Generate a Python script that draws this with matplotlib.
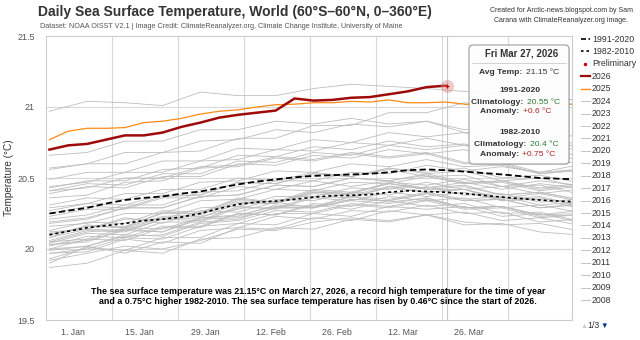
import matplotlib
matplotlib.use("Agg")
import matplotlib.pyplot as plt
from matplotlib.lines import Line2D
from matplotlib.patches import FancyBboxPatch

plt.rcParams['font.family'] = ['Liberation Sans', 'DejaVu Sans']

W, H = 640, 340

# day of year (1 = 1 Jan), sampled every 4 days / 8 days
days4 = list(range(-4, 109, 4))
days8 = list(range(-4, 109, 8))

sst_2026 = [20.70, 20.73, 20.74, 20.77, 20.80, 20.80, 20.82, 20.86, 20.89, 20.925, 20.945,
            20.96, 20.975, 21.06, 21.045, 21.05, 21.065, 21.07, 21.09, 21.11, 21.14, 21.15]
sst_2025 = [20.77, 20.83, 20.85, 20.85, 20.855, 20.89, 20.90, 20.92, 20.95, 20.97, 20.98, 21.0,
            21.016, 21.02, 21.03, 21.03, 21.04, 21.035, 21.05, 21.03, 21.03, 21.035, 21.02,
            21.01, 21.01, 21.02, 21.02, 21.02, 21.02]
clim_1991_2020 = [20.25, 20.27, 20.29, 20.32, 20.345, 20.36, 20.37, 20.39, 20.405, 20.43, 20.455,
                  20.475, 20.49, 20.505, 20.515, 20.52, 20.525, 20.53, 20.54, 20.555, 20.56,
                  20.555, 20.545, 20.535, 20.525, 20.513, 20.50, 20.495, 20.49]
clim_1982_2010 = [20.10, 20.125, 20.15, 20.165, 20.18, 20.20, 20.21, 20.225, 20.25, 20.285, 20.315,
                  20.33, 20.337, 20.35, 20.365, 20.375, 20.378, 20.383, 20.40, 20.41, 20.405,
                  20.40, 20.39, 20.378, 20.365, 20.355, 20.345, 20.337, 20.333]

gray_years = list(range(1982, 2025))
gray_values = [
    [19.92, 19.97, 20.02, 20.00, 20.06, 20.14, 20.13, 20.19, 20.22, 20.20, 20.24, 20.19, 20.17, 20.18, 20.13],
    [20.05, 20.12, 20.14, 20.22, 20.23, 20.28, 20.35, 20.34, 20.40, 20.38, 20.44, 20.38, 20.39, 20.33, 20.35],
    [19.90, 20.02, 19.97, 20.05, 20.04, 20.15, 20.14, 20.22, 20.20, 20.27, 20.24, 20.26, 20.20, 20.22, 20.17],
    [19.87, 19.90, 19.99, 19.97, 20.07, 20.08, 20.15, 20.14, 20.21, 20.19, 20.24, 20.17, 20.18, 20.12, 20.10],
    [19.97, 19.98, 20.07, 20.04, 20.13, 20.15, 20.23, 20.21, 20.27, 20.26, 20.31, 20.25, 20.26, 20.19, 20.21],
    [20.08, 20.17, 20.15, 20.26, 20.25, 20.36, 20.33, 20.42, 20.40, 20.46, 20.42, 20.44, 20.38, 20.40, 20.35],
    [20.12, 20.14, 20.22, 20.18, 20.27, 20.26, 20.33, 20.29, 20.37, 20.33, 20.36, 20.29, 20.30, 20.23, 20.24],
    [19.93, 20.01, 19.99, 20.08, 20.08, 20.18, 20.17, 20.25, 20.23, 20.30, 20.28, 20.30, 20.23, 20.25, 20.19],
    [20.03, 20.05, 20.14, 20.12, 20.22, 20.23, 20.31, 20.30, 20.37, 20.35, 20.40, 20.35, 20.37, 20.31, 20.33],
    [20.06, 20.13, 20.12, 20.21, 20.20, 20.30, 20.28, 20.36, 20.34, 20.40, 20.37, 20.40, 20.34, 20.36, 20.31],
    [20.05, 20.07, 20.15, 20.14, 20.22, 20.24, 20.30, 20.29, 20.34, 20.32, 20.36, 20.29, 20.30, 20.24, 20.25],
    [20.00, 20.07, 20.06, 20.15, 20.15, 20.25, 20.24, 20.32, 20.30, 20.37, 20.34, 20.36, 20.29, 20.31, 20.26],
    [20.03, 20.06, 20.13, 20.12, 20.21, 20.22, 20.29, 20.29, 20.35, 20.34, 20.39, 20.34, 20.35, 20.29, 20.31],
    [20.13, 20.19, 20.18, 20.27, 20.26, 20.35, 20.33, 20.40, 20.38, 20.44, 20.40, 20.42, 20.35, 20.37, 20.31],
    [19.97, 20.00, 20.08, 20.07, 20.16, 20.18, 20.25, 20.25, 20.31, 20.29, 20.34, 20.28, 20.29, 20.22, 20.24],
    [20.04, 20.11, 20.10, 20.19, 20.19, 20.29, 20.29, 20.37, 20.36, 20.44, 20.43, 20.47, 20.42, 20.46, 20.43],
    [20.36, 20.38, 20.47, 20.48, 20.57, 20.58, 20.64, 20.62, 20.67, 20.64, 20.67, 20.60, 20.60, 20.53, 20.55],
    [20.02, 20.09, 20.08, 20.16, 20.16, 20.25, 20.24, 20.31, 20.28, 20.34, 20.30, 20.32, 20.25, 20.26, 20.20],
    [19.99, 20.02, 20.10, 20.09, 20.18, 20.20, 20.27, 20.26, 20.32, 20.30, 20.35, 20.29, 20.30, 20.24, 20.27],
    [20.10, 20.16, 20.16, 20.25, 20.25, 20.34, 20.33, 20.41, 20.39, 20.46, 20.43, 20.45, 20.38, 20.40, 20.35],
    [20.18, 20.21, 20.29, 20.29, 20.37, 20.38, 20.45, 20.44, 20.50, 20.48, 20.52, 20.46, 20.47, 20.41, 20.44],
    [20.31, 20.36, 20.35, 20.42, 20.42, 20.50, 20.48, 20.54, 20.51, 20.56, 20.51, 20.52, 20.44, 20.45, 20.39],
    [20.19, 20.22, 20.29, 20.29, 20.37, 20.38, 20.45, 20.44, 20.50, 20.48, 20.53, 20.47, 20.48, 20.42, 20.45],
    [20.25, 20.30, 20.29, 20.37, 20.38, 20.47, 20.46, 20.53, 20.51, 20.57, 20.53, 20.55, 20.48, 20.50, 20.44],
    [20.11, 20.14, 20.21, 20.21, 20.29, 20.30, 20.37, 20.37, 20.43, 20.42, 20.47, 20.42, 20.44, 20.39, 20.42],
    [20.23, 20.28, 20.28, 20.36, 20.36, 20.44, 20.42, 20.48, 20.44, 20.48, 20.42, 20.42, 20.34, 20.35, 20.29],
    [20.00, 20.02, 20.09, 20.10, 20.19, 20.21, 20.29, 20.29, 20.35, 20.34, 20.39, 20.34, 20.35, 20.29, 20.32],
    [20.08, 20.14, 20.13, 20.21, 20.22, 20.32, 20.32, 20.40, 20.39, 20.47, 20.45, 20.49, 20.44, 20.48, 20.45],
    [20.41, 20.43, 20.50, 20.50, 20.58, 20.59, 20.65, 20.63, 20.68, 20.65, 20.68, 20.61, 20.61, 20.54, 20.56],
    [20.10, 20.16, 20.15, 20.23, 20.24, 20.33, 20.32, 20.39, 20.37, 20.43, 20.40, 20.42, 20.36, 20.39, 20.34],
    [20.16, 20.18, 20.25, 20.25, 20.34, 20.35, 20.42, 20.41, 20.47, 20.46, 20.51, 20.46, 20.48, 20.43, 20.46],
    [20.27, 20.32, 20.31, 20.38, 20.38, 20.47, 20.46, 20.53, 20.51, 20.57, 20.54, 20.57, 20.50, 20.52, 20.47],
    [20.21, 20.24, 20.31, 20.31, 20.40, 20.41, 20.48, 20.48, 20.54, 20.53, 20.59, 20.55, 20.58, 20.54, 20.59],
    [20.41, 20.46, 20.45, 20.53, 20.53, 20.62, 20.61, 20.68, 20.66, 20.73, 20.70, 20.73, 20.67, 20.70, 20.66],
    [20.66, 20.68, 20.76, 20.76, 20.84, 20.84, 20.90, 20.88, 20.92, 20.88, 20.90, 20.82, 20.82, 20.74, 20.75],
    [20.43, 20.48, 20.48, 20.56, 20.57, 20.66, 20.65, 20.72, 20.70, 20.76, 20.72, 20.74, 20.67, 20.68, 20.63],
    [20.29, 20.32, 20.39, 20.39, 20.47, 20.48, 20.55, 20.54, 20.60, 20.58, 20.63, 20.58, 20.59, 20.53, 20.56],
    [20.49, 20.54, 20.54, 20.62, 20.62, 20.71, 20.70, 20.77, 20.75, 20.82, 20.79, 20.82, 20.75, 20.77, 20.72],
    [20.57, 20.60, 20.68, 20.68, 20.76, 20.77, 20.84, 20.82, 20.88, 20.86, 20.90, 20.84, 20.85, 20.78, 20.80],
    [20.39, 20.44, 20.43, 20.51, 20.51, 20.60, 20.59, 20.66, 20.64, 20.70, 20.67, 20.70, 20.63, 20.65, 20.60],
    [20.44, 20.47, 20.54, 20.54, 20.62, 20.63, 20.70, 20.69, 20.75, 20.73, 20.78, 20.73, 20.74, 20.68, 20.71],
    [20.56, 20.60, 20.60, 20.68, 20.69, 20.78, 20.78, 20.87, 20.87, 20.96, 20.96, 21.03, 21.01, 21.06, 21.05],
    [20.97, 21.04, 21.03, 21.01, 21.105, 21.08, 21.08, 21.13, 21.16, 21.145, 21.13, 21.11, 21.09, 21.07, 21.05],
]

tick_days = [1, 15, 29, 43, 57, 71, 85]
tick_labels = ['1. Jan', '15. Jan', '29. Jan', '12. Feb', '26. Feb', '12. Mar', '26. Mar']
grid_days = [9.3, 23.3, 37.3, 51.3, 65.3, 79.3, 93.3]
y_ticks = [19.5, 20, 20.5, 21, 21.5]
y_tick_labels = ['19.5', '20', '20.5', '21', '21.5']
current_day = 80.3
current_temp = 21.15

legend_labels = ['1991-2020', '1982-2010', 'Preliminary', '2026', '2025'] + \
    [str(y) for y in range(2024, 2007, -1)]


def fx(px):
    return px / W


def fy(py):
    return 1 - py / H


fig = plt.figure(figsize=(6.4, 3.4), dpi=100)
ax = fig.add_axes([fx(46), fy(320), (572 - 46) / W, (320 - 36) / H])

for vals in gray_values:
    ax.plot(days8, vals, color='#bdbdbd', lw=0.6, zorder=2)

ax.plot(days4, clim_1982_2010, color='black', lw=1.2, dashes=(1.8, 1.8), zorder=3)
ax.plot(days4, clim_1991_2020, color='black', lw=1.3, dashes=(3.5, 1.8), zorder=3)
ax.plot(days4, sst_2025, color='#ff8a14', lw=0.9, zorder=4)
ax.plot(days4[:len(sst_2026)], sst_2026, color='#9e0a0a', lw=1.8, zorder=5)

ax.axvline(current_day, color='#c8c8c8', lw=0.8, zorder=1)
ax.scatter([current_day], [current_temp], s=90, color='#d88a8a', alpha=0.45, lw=0, zorder=6)
ax.scatter([current_day], [current_temp], s=10, marker='+', color='#cc0000', lw=0.9, zorder=7)

ax.set_xlim(-4.73, 106.85)
ax.set_ylim(19.5, 21.5)
ax.set_xticks(tick_days)
ax.set_xticklabels(tick_labels)
ax.set_yticks(y_ticks)
ax.set_yticklabels(y_tick_labels)
ax.tick_params(axis='both', which='both', length=0, colors='#555555')
ax.tick_params(axis='x', labelsize=6.3, pad=6)
ax.tick_params(axis='y', labelsize=6.5, pad=8)
for g in grid_days:
    ax.axvline(g, color='#d8d8d8', lw=0.8, zorder=1)
for yv in [20, 20.5, 21]:
    ax.axhline(yv, color='#d8d8d8', lw=0.8, zorder=1)
for sp in ax.spines.values():
    sp.set_color('#cccccc')
    sp.set_linewidth(0.8)
ax.set_ylabel('Temperature (°C)', fontsize=7.2, color='#333333')
ax.yaxis.set_label_coords(-0.061, 0.5)

# headings
fig.text(fx(38), fy(12), 'Daily Sea Surface Temperature, World (60°S–60°N, 0–360°E)',
         fontsize=10, fontweight='bold', color='#333333', va='center', ha='left')
fig.text(fx(40), fy(26), 'Dataset: NOAA OISST V2.1 | Image Credit: ClimateReanalyzer.org, '
         'Climate Change Institute, University of Maine',
         fontsize=5.2, color='#555555', va='center', ha='left')
fig.text(fx(561), fy(11), 'Created for Arctic-news.blogspot.com by Sam', fontsize=5,
         color='#333333', va='center', ha='center')
fig.text(fx(561), fy(21), 'Carana with ClimateReanalyzer.org image.', fontsize=5,
         color='#333333', va='center', ha='center')

# annotation
fig.text(fx(318), fy(291), 'The sea surface temperature was 21.15°C on March 27, 2026, a record '
         'high temperature for the time of year', fontsize=6.4, fontweight='bold',
         color='black', va='center', ha='center')
fig.text(fx(318), fy(302), 'and a 0.75°C higher 1982-2010. The sea surface temperature has risen '
         'by 0.46°C since the start of 2026.', fontsize=6.4, fontweight='bold',
         color='black', va='center', ha='center')

# legend
ly = 39
for lab in legend_labels:
    xs = [fx(581), fx(590)]
    ys = [fy(ly), fy(ly)]
    if lab == '1991-2020':
        fig.add_artist(Line2D(xs, ys, color='black', lw=1.2, dashes=(3, 1.5)))
    elif lab == '1982-2010':
        fig.add_artist(Line2D(xs, ys, color='black', lw=1.2, dashes=(1.5, 1.8)))
    elif lab == 'Preliminary':
        fig.add_artist(Line2D([fx(585)], [fy(ly)], color='#cc0000', marker='o', ms=1.5, lw=0))
    elif lab == '2026':
        fig.add_artist(Line2D(xs, ys, color='#9e0a0a', lw=1.6))
    elif lab == '2025':
        fig.add_artist(Line2D(xs, ys, color='#ff8a14', lw=1.0))
    else:
        fig.add_artist(Line2D(xs, ys, color='#c4c4c4', lw=0.7))
    fig.text(fx(592), fy(ly), lab, fontsize=6.3, color='#333333', va='center', ha='left')
    ly += 12.43
fig.text(fx(581), fy(326), '▲', fontsize=5, color='#cccccc', va='center', ha='left')
fig.text(fx(587), fy(326), '1/3', fontsize=6.3, color='#333333', va='center', ha='left')
fig.text(fx(600), fy(326), '▼', fontsize=5.5, color='#003399', va='center', ha='left')

# tooltip
tr = fig.dpi_scale_trans
fig.patches.append(FancyBboxPatch((4.70, 1.75), 1.0, 1.19, boxstyle='round,pad=0,rounding_size=0.04',
                                  transform=tr, fc='black', ec='none', alpha=0.10, zorder=10))
fig.patches.append(FancyBboxPatch((4.69, 1.76), 1.0, 1.19, boxstyle='round,pad=0,rounding_size=0.04',
                                  transform=tr, fc='white', ec='#999999', lw=0.8, alpha=0.96, zorder=11))
fig.add_artist(Line2D([fx(472), fx(566)], [fy(63), fy(63)], color='#cccccc', lw=0.6, zorder=12))
tip_font = dict(fontsize=6.1, va='center', zorder=13)
fig.text(fx(522), fy(54), 'Fri Mar 27, 2026', ha='center', fontweight='bold', color='#333333',
         fontsize=7, va='center', zorder=13)
tip_rows = [
    (73, 525, 'Avg Temp: ', '21.15 °C', '#333333'),
    (102, 526, 'Climatology: ', '20.55 °C', '#2e7d32'),
    (112, 522, 'Anomaly: ', '+0.6 °C', '#b22222'),
    (144, 529, 'Climatology: ', '20.4 °C', '#2e7d32'),
    (155, 521, 'Anomaly: ', '+0.75 °C', '#b22222'),
]
for py, xs, lab, val, col in tip_rows:
    fig.text(fx(xs), fy(py), lab, ha='right', fontweight='bold', color='#333333', **tip_font)
    fig.text(fx(xs + 1), fy(py), val, ha='left', color=col, **tip_font)
fig.text(fx(520), fy(91), '1991-2020', ha='center', fontweight='bold', color='#333333', **tip_font)
fig.text(fx(520), fy(133), '1982-2010', ha='center', fontweight='bold', color='#333333', **tip_font)

fig.savefig('out.png', dpi=100)
